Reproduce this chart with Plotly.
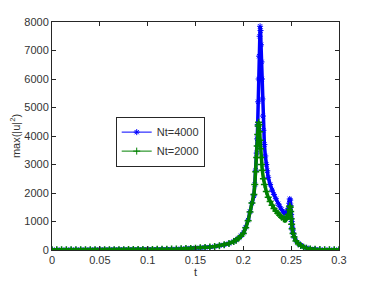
import plotly.graph_objects as go

# ---- data ----
flat_t = [0.000, 0.005, 0.010, 0.015, 0.020, 0.025, 0.030, 0.035, 0.040, 0.045,
          0.050, 0.055, 0.060, 0.065, 0.070, 0.075, 0.080, 0.085, 0.090, 0.095,
          0.100, 0.105, 0.110, 0.115, 0.120, 0.125, 0.130, 0.135, 0.140, 0.145,
          0.150, 0.155, 0.160, 0.165, 0.170, 0.175, 0.180, 0.185, 0.190]
flat_v = [8, 8, 8, 8, 9, 9, 9, 9, 10, 10,
          10, 11, 11, 12, 12, 13, 14, 15, 16, 17,
          18, 20, 22, 25, 28, 32, 37, 43, 50, 57,
          65, 75, 88, 104, 125, 150, 180, 230, 300]

t_4000 = flat_t + [0.1925, 0.195, 0.1975, 0.200, 0.2025, 0.205, 0.207, 0.209, 0.211, 0.212,
                   0.213, 0.214, 0.2145, 0.215, 0.2155, 0.216, 0.2165, 0.217, 0.2175, 0.218,
                   0.2185, 0.219, 0.2195, 0.220, 0.2205, 0.221, 0.222, 0.223, 0.224, 0.225,
                   0.226, 0.228, 0.230, 0.232, 0.234, 0.2365, 0.238, 0.240, 0.242, 0.2435,
                   0.245, 0.246, 0.247, 0.248, 0.2485, 0.249, 0.2495, 0.250, 0.2505, 0.251,
                   0.2515, 0.252, 0.253, 0.255, 0.2575, 0.260, 0.263, 0.266, 0.270, 0.275,
                   0.280, 0.285, 0.290, 0.295, 0.300]
v_4000 = flat_v + [350, 420, 500, 600, 800, 1050, 1350, 1650, 1900, 2300,
                   2800, 3400, 3900, 4400, 5200, 6000, 6800, 7500, 7850, 7700,
                   7200, 6600, 6000, 5300, 4700, 4200, 3700, 3300, 3000, 2780,
                   2550, 2300, 2100, 1950, 1800, 1620, 1520, 1420, 1330, 1280,
                   1290, 1350, 1460, 1640, 1790, 1750, 1550, 1250, 1000, 800,
                   700, 600, 470, 330, 230, 170, 110, 70, 40, 25,
                   15, 12, 10, 9, 8]

t_2000 = flat_t + [0.1925, 0.195, 0.1975, 0.200, 0.2025, 0.205, 0.207, 0.209, 0.211, 0.212,
                   0.213, 0.214, 0.2145, 0.215, 0.2155, 0.216, 0.2165, 0.217, 0.2175, 0.218,
                   0.2185, 0.219, 0.2198, 0.221, 0.222, 0.224, 0.226, 0.228, 0.230, 0.232,
                   0.234, 0.236, 0.238, 0.240, 0.242, 0.243, 0.244, 0.245, 0.246, 0.247,
                   0.248, 0.2485, 0.249, 0.2495, 0.250, 0.2505, 0.251, 0.252, 0.253, 0.255,
                   0.2575, 0.260, 0.263, 0.266, 0.270, 0.275, 0.280, 0.285, 0.290, 0.295,
                   0.300]
v_2000 = flat_v + [345, 410, 490, 580, 780, 1030, 1330, 1650, 1950, 2300,
                   2750, 3250, 3650, 4050, 4350, 4480, 4400, 4150, 3850, 3550,
                   3250, 3000, 2800, 2500, 2300, 2050, 1850, 1700, 1570, 1460,
                   1370, 1290, 1220, 1150, 1100, 1080, 1080, 1100, 1150, 1250,
                   1410, 1540, 1500, 1350, 1100, 900, 750, 580, 460, 320,
                   220, 160, 100, 65, 38, 24, 15, 12, 10, 9,
                   8]

assert len(t_4000) == len(v_4000) and len(t_2000) == len(v_2000)

x_ticks = [0, 0.05, 0.1, 0.15, 0.2, 0.25, 0.3]
x_tick_labels = ["0", "0.05", "0.1", "0.15", "0.2", "0.25", "0.3"]
y_ticks = [0, 1000, 2000, 3000, 4000, 5000, 6000, 7000, 8000]

FONT = "Liberation Sans, Arial, sans-serif"
TXT = "#333333"
BLUE = "#0000ff"
GREEN = "#008000"

fig = go.Figure()
# data traces: dense-looking marker bands (thick line under the markers)
fig.add_trace(go.Scatter(
    x=t_4000, y=v_4000, name="Nt=4000", mode="lines+markers", showlegend=False,
    legendgroup="a",
    line=dict(color=BLUE, width=3.5),
    marker=dict(symbol="asterisk-open", size=5, color=BLUE,
                line=dict(color=BLUE, width=1)),
))
fig.add_trace(go.Scatter(
    x=t_2000, y=v_2000, name="Nt=2000", mode="lines+markers", showlegend=False,
    legendgroup="b",
    line=dict(color=GREEN, width=3.5),
    marker=dict(symbol="cross-thin-open", size=5, color=GREEN,
                line=dict(color=GREEN, width=1.5)),
))
# legend entries (thin line with a small marker, as in the reference)
fig.add_trace(go.Scatter(
    x=[None], y=[None], name="Nt=4000", mode="lines+markers", legendgroup="a",
    line=dict(color=BLUE, width=1),
    marker=dict(symbol="asterisk-open", size=5, color=BLUE, line=dict(color=BLUE, width=1)),
))
fig.add_trace(go.Scatter(
    x=[None], y=[None], name="Nt=2000", mode="lines+markers", legendgroup="b",
    line=dict(color=GREEN, width=1),
    marker=dict(symbol="cross-thin-open", size=5, color=GREEN, line=dict(color=GREEN, width=1)),
))

axis_common = dict(
    showline=True, linecolor="#262626", linewidth=1, mirror="ticks",
    ticks="inside", ticklen=4, tickcolor="#262626", showgrid=False, zeroline=False,
    tickfont=dict(family=FONT, size=11, color=TXT), automargin=False,
)

# the page body has an 8px default margin, so the figure is sized/offset for it
fig.update_layout(
    width=366, height=273,
    margin=dict(l=44, r=35, t=14, b=31),
    paper_bgcolor="white", plot_bgcolor="white",
    font=dict(family=FONT, size=11, color=TXT),
    showlegend=True,
    legend=dict(x=0.222, y=0.585, xanchor="left", yanchor="top",
                bgcolor="white", bordercolor="#262626", borderwidth=1,
                font=dict(family=FONT, size=11, color=TXT),
                itemwidth=30, tracegroupgap=0, traceorder="normal"),
    xaxis=dict(range=[0, 0.3], tickvals=x_ticks, ticktext=x_tick_labels,
               title=dict(text="t", standoff=2, font=dict(family=FONT, size=11, color=TXT)),
               **axis_common),
    yaxis=dict(range=[0, 8000], tickvals=y_ticks,
               title=dict(text="max(|u|<sup>2</sup>)", standoff=4,
                          font=dict(family=FONT, size=11, color=TXT)),
               **axis_common),
)

fig.write_html("out.html")
